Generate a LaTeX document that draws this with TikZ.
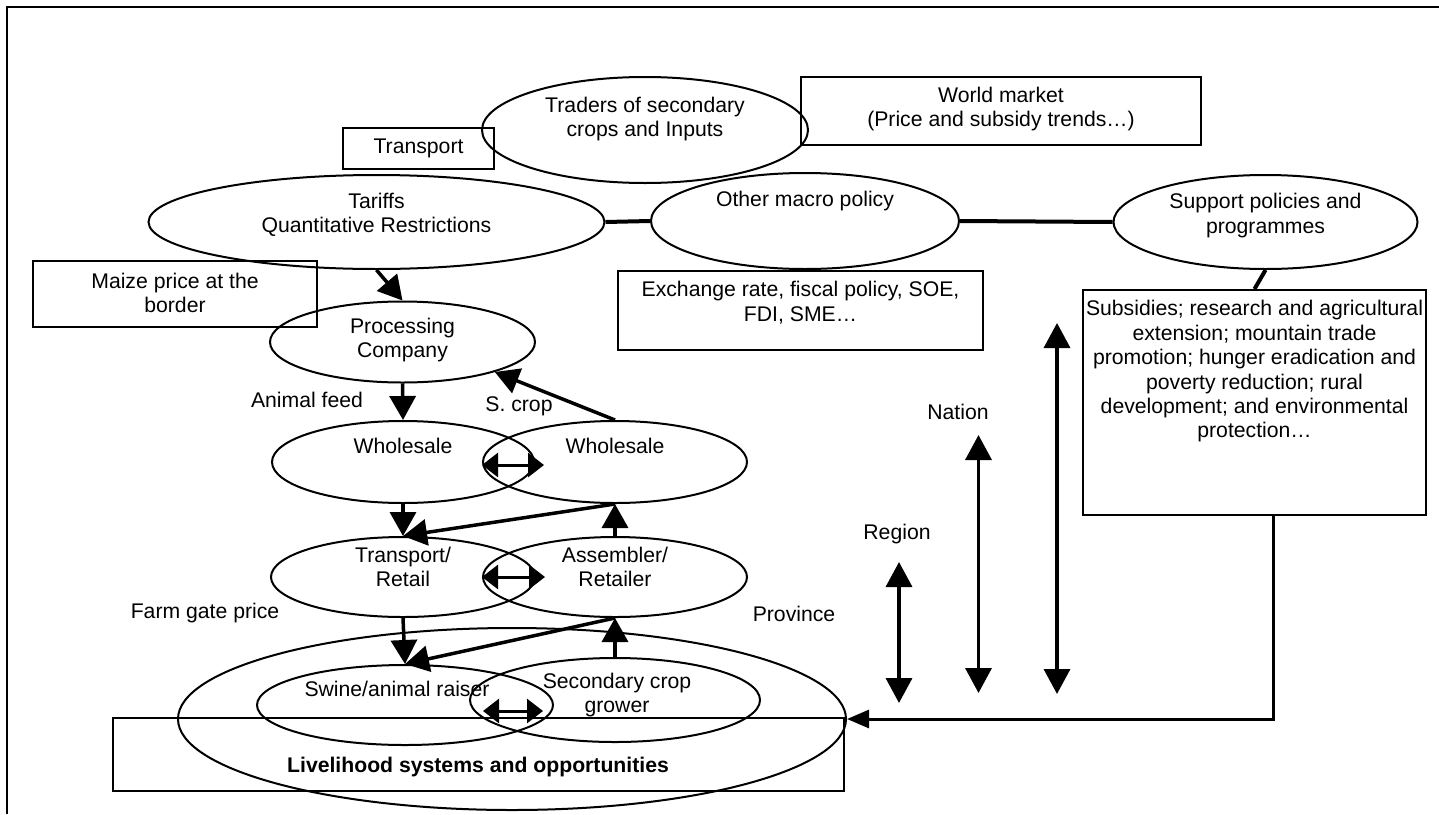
\documentclass[tikz,border=0pt]{standalone}
\usepackage{fontspec}
\setmainfont{Liberation Sans}
\usetikzlibrary{arrows.meta,shapes.geometric,calc}

\begin{document}
\begin{tikzpicture}[x=1pt,y=-1pt,
  every node/.style={font=\fontsize{21.2}{24.4}\selectfont},
  oval/.style={draw,ellipse,line width=2pt,inner sep=0pt},
  boxed/.style={draw,rectangle,line width=2pt,inner sep=0pt},
  txt/.style={align=center,inner sep=0pt},
  flow/.style={line width=3.5pt,-{Triangle[length=24pt,width=26pt]}},
  swap/.style={line width=3pt,{Triangle[length=16pt,width=24pt]}-{Triangle[length=16pt,width=24pt]}},
  level/.style={line width=3.5pt,{Triangle[length=25pt,width=26pt]}-{Triangle[length=25pt,width=26pt]}},
  link/.style={line width=4pt},
  feed/.style={line width=3pt,-{Triangle[length=22pt,width=18pt]}}
]
\useasboundingbox (0,0) rectangle (1439,814);

% outer frame (top and left edges)
\draw[line width=2pt] (7,814) -- (7,7) -- (1439,7);

% policy level
\node[boxed,minimum width=151pt,minimum height=41pt] (transport) at (418.5,148.5) {};
\node[txt] (transportT) at (418.5,148.5) {Transport};
\node[oval,minimum width=326pt,minimum height=106pt] (traders) at (645,130) {};
\node[txt] (tradersT) at (645,119) {Traders of secondary\\crops and Inputs};
\node[boxed,minimum width=400pt,minimum height=68pt] (world) at (1001,111) {};
\node[txt] (worldT) at (1001,109) {World market\\(Price and subsidy trends\dots)};

\node[oval,minimum width=456pt,minimum height=94pt] (tariffs) at (376.5,222) {};
\node[txt] (tariffsT) at (376.5,215) {Tariffs\\Quantitative Restrictions};
\node[oval,minimum width=308pt,minimum height=96pt] (macro) at (805,221) {};
\node[txt] (macroT) at (805,201) {Other macro policy};
\node[oval,minimum width=304pt,minimum height=94pt] (support) at (1265.5,222) {};
\node[txt] (supportT) at (1265.5,215.5) {Support policies and\\programmes};

\draw[link] (tariffs.east) -- (macro.west);
\draw[link] (macro.east) -- (support.west);

\node[boxed,minimum width=284pt,minimum height=66pt] (maize) at (175,294) {};
\node[txt] (maizeT) at (175,293) {Maize price at the\\border};
\node[boxed,minimum width=365pt,minimum height=79pt] (exch) at (800.5,310.5) {};
\node[txt] (exchT) at (800.5,302.5) {Exchange rate, fiscal policy, SOE,\\FDI, SME\dots};
\node[boxed,minimum width=343pt,minimum height=225pt] (subs) at (1254.5,402.5) {};
\node[txt] (subsT) at (1254.5,371.5) {Subsidies; research and agricultural\\extension; mountain trade\\promotion; hunger eradication and\\poverty reduction; rural\\development; and environmental\\protection\dots};
\draw[link] (support.south) -- (subs.north);

% market chain
\node[oval,minimum width=265pt,minimum height=81pt] (proc) at (402.5,342) {};
\node[txt] (procT) at (402.5,340) {Processing\\Company};
\draw[flow] (tariffs.south) -- (proc.north);

\node[oval,minimum width=262pt,minimum height=82pt] (whA) at (403,462) {};
\node[txt] (whAT) at (403,446) {Wholesale};
\node[oval,minimum width=264pt,minimum height=82pt] (whB) at (615,462) {};
\node[txt] (whBT) at (615,446) {Wholesale};
\node[txt] (feedT) at (307,400) {Animal feed};
\node[txt] (scropT) at (519,406) {S. crop};
\draw[flow] (proc.south) -- (whA.north);
\draw[flow] (whB.north) -- (proc.-18);
\draw[swap] ($(whB.west)+(0,3)$) -- ($(whA.east)+(9,3)$);

\node[oval,minimum width=264pt,minimum height=80pt] (trans) at (403,577) {};
\node[txt] (transT) at (403,567) {Transport/\\Retail};
\node[oval,minimum width=264pt,minimum height=80pt] (assem) at (615,577) {};
\node[txt] (assemT) at (615,567) {Assembler/\\Retailer};
\draw[flow] (whA.south) -- (trans.north);
\draw[flow] (whB.south) -- (trans.north);
\draw[flow] (assem.north) -- (whB.south);
\draw[swap] (assem.west) -- ($(trans.east)+(9,0)$);

% farm level
\node[oval,minimum width=668pt,minimum height=182pt] (prov) at (512,719) {};
\node[txt] (farmT) at (205,613) {Farm gate price};
\node[txt] (provT) at (794,614) {Province};
\node[oval,minimum width=296pt,minimum height=80pt] (swine) at (405,705) {};
\node[txt] (swineT) at (397,689) {Swine/animal raiser};
\node[oval,minimum width=290pt,minimum height=84pt] (grow) at (615,700) {};
\node[txt] (growT) at (617,695) {Secondary crop\\grower};
\draw[flow] (trans.south) -- (swine.north);
\draw[flow] (assem.south) -- (swine.north);
\draw[flow] (grow.north) -- (assem.south);
\coordinate (swL) at (483,711);
\coordinate (swR) at (543,711);
\draw[swap] (swL) -- (swR);

\node[boxed,minimum width=731pt,minimum height=73pt] (live) at (478.5,754.5) {};
\node[txt,font=\fontsize{21.2}{24.4}\selectfont\bfseries] (liveT) at (478,767) {Livelihood systems and opportunities};

% scale levels
\node[txt] (regionT) at (897,534) {Region};
\node[txt] (nationT) at (958,412) {Nation};
\coordinate (regTop) at (899,562);
\coordinate (regBot) at (899,703);
\coordinate (natTop) at (978.5,435);
\coordinate (natBot) at (978.5,693);
\coordinate (ctrTop) at (1057,323);
\coordinate (ctrBot) at (1057,694);
\draw[level] (regTop) -- (regBot);
\draw[level] (natTop) -- (natBot);
\draw[level] (ctrTop) -- (ctrBot);

% programmes reaching the household level
\coordinate (subsOut) at (1273,515);
\draw[feed] (subsOut) |- (prov.east);
\end{tikzpicture}
\end{document}
